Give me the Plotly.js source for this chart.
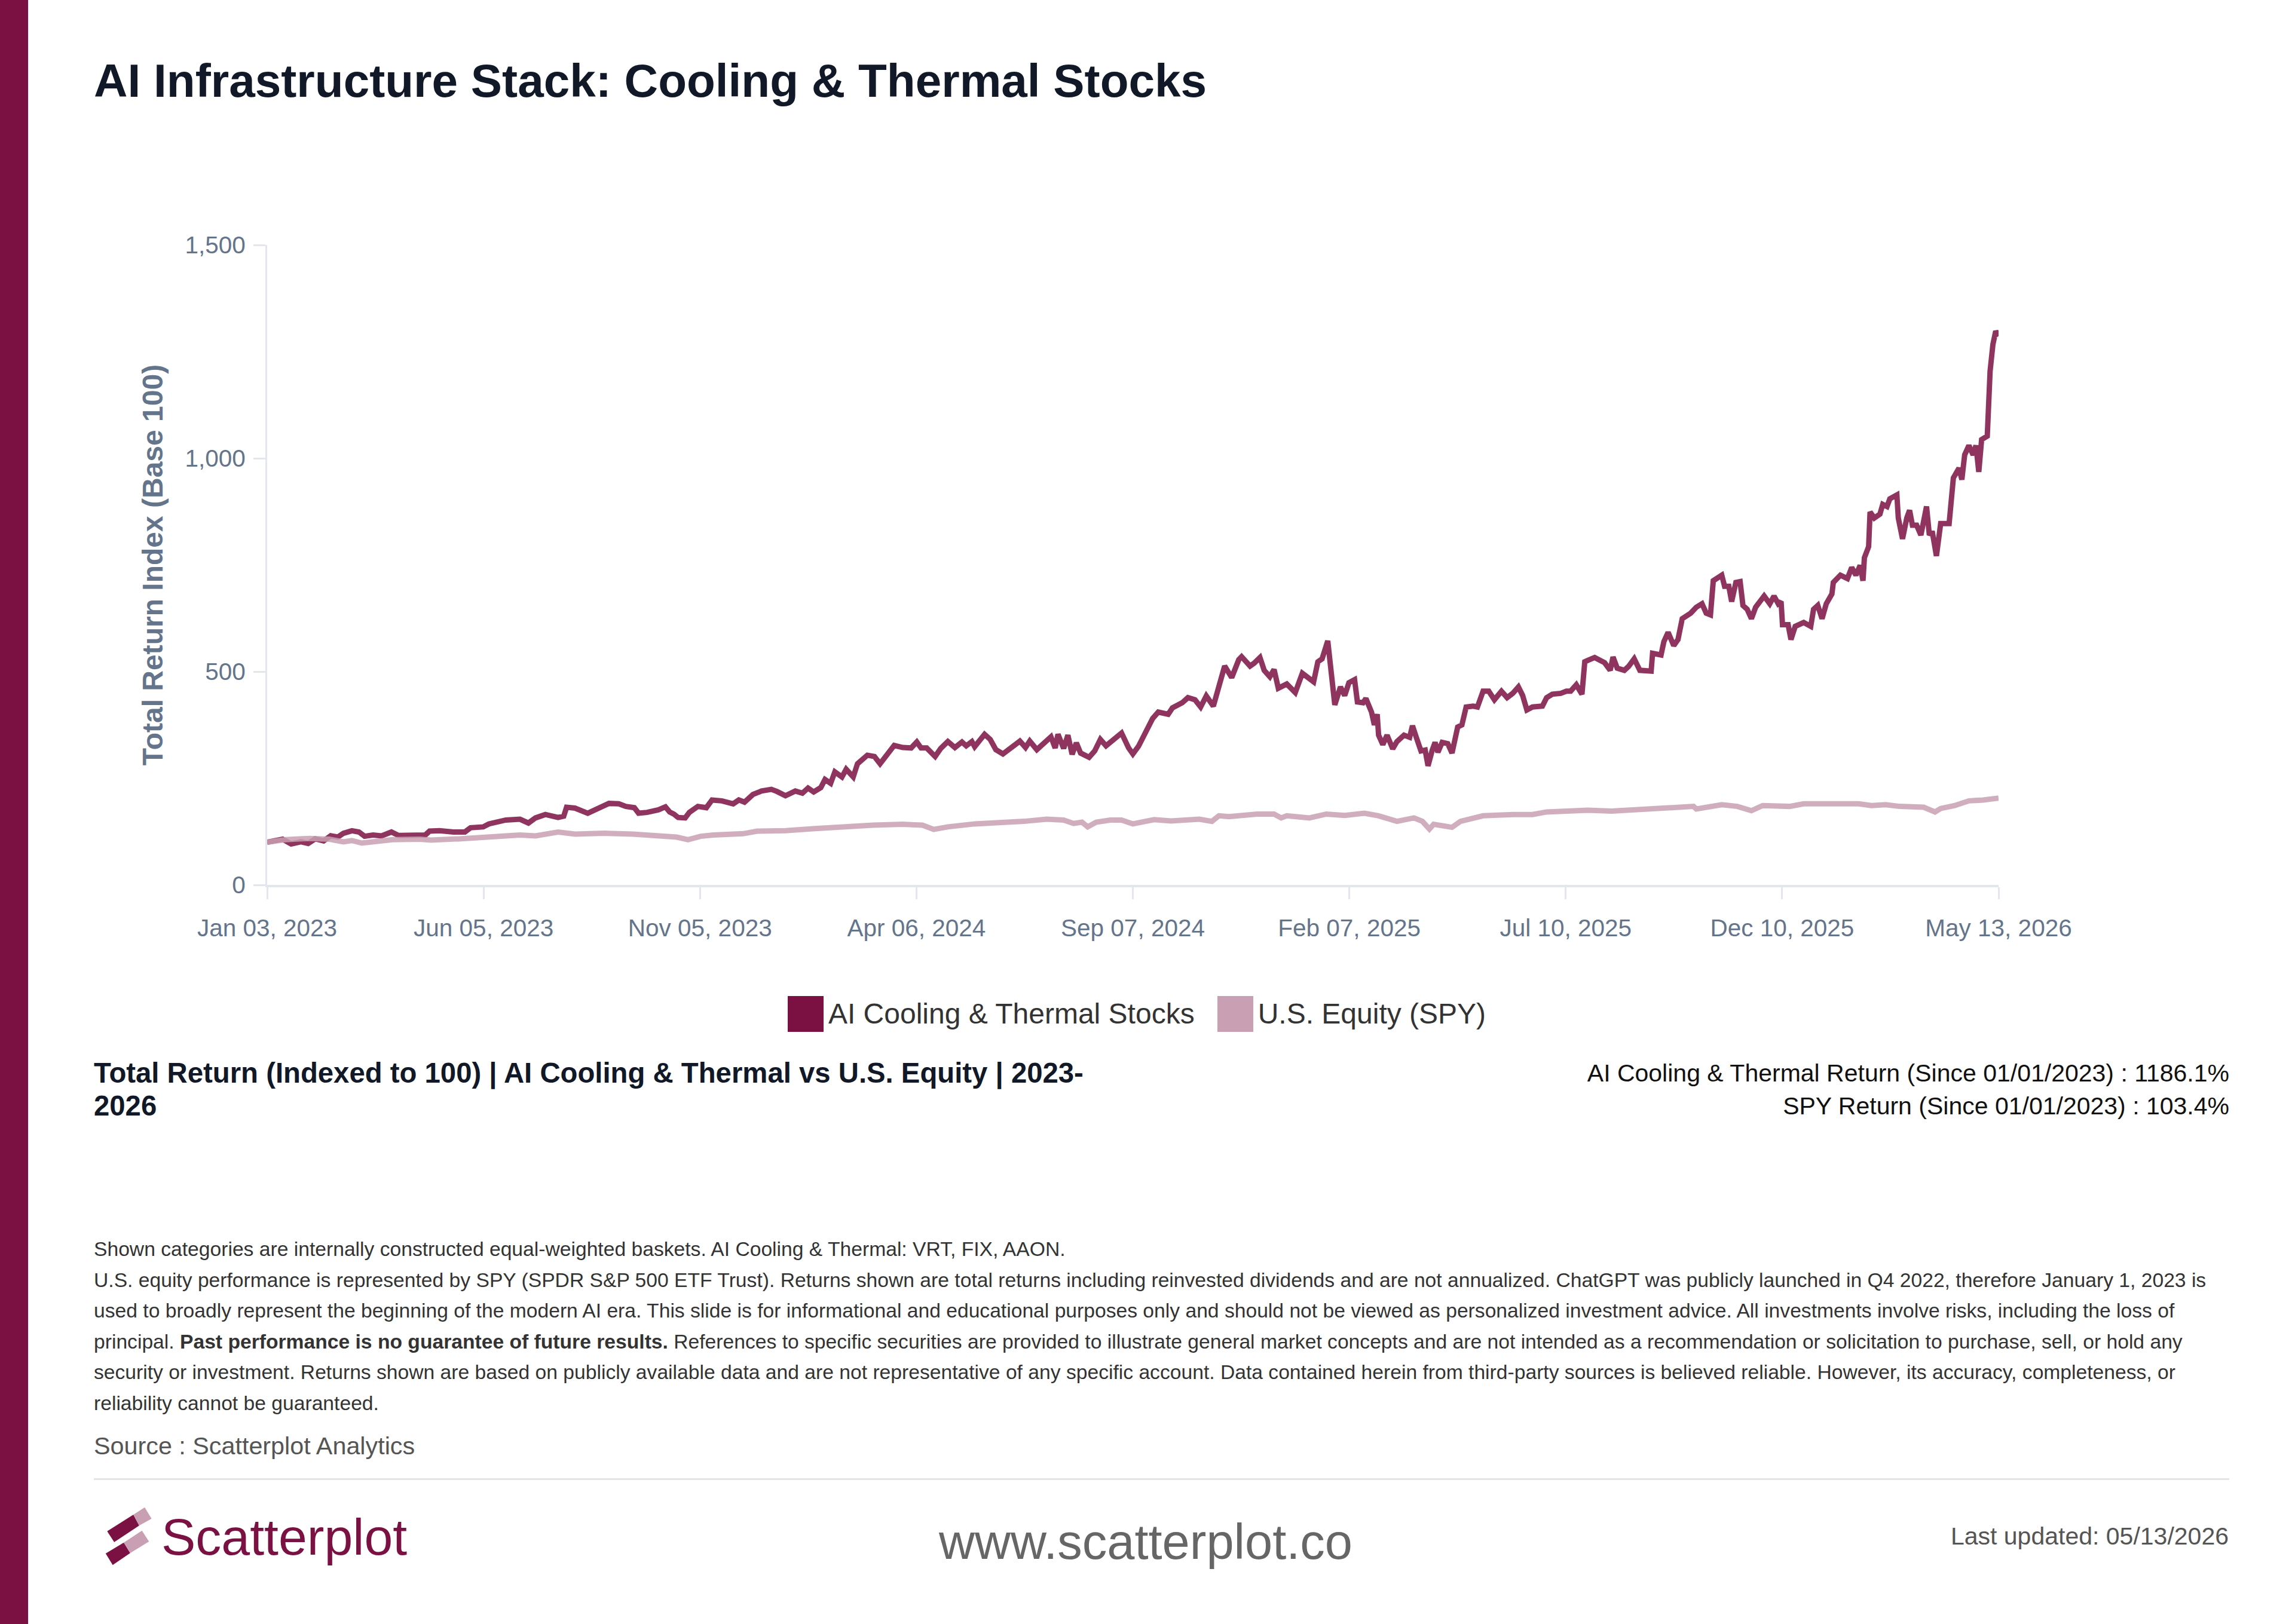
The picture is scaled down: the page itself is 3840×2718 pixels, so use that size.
<!DOCTYPE html>
<html>
<head>
<meta charset="utf-8">
<script src="https://cdn.plot.ly/plotly-3.0.1.min.js"></script>
<style>
  html, body { margin: 0; padding: 0; background: #ffffff; }
  body { width: 3840px; height: 2718px; position: relative; overflow: hidden;
         font-family: "Liberation Sans", Arial, sans-serif; }
  #sidebar { position: absolute; left: 0; top: 0; width: 47px; height: 2718px; background: #7B1042; }
  #chart { position: absolute; left: 0; top: 0; width: 3840px; height: 1640px; }
  #title { position: absolute; left: 157px; top: 96px; font-size: 78.3px; line-height: 78px; font-weight: 700;
           color: #111827; white-space: nowrap; }
  #legend { position: absolute; left: 0; top: 1667px; width: 3804px; height: 60px; display: flex;
            justify-content: center; align-items: center; }
  .lg-item { display: flex; align-items: center; margin: 0 19px; }
  .lg-swatch { width: 60px; height: 60px; margin-right: 8px; }
  .lg-text { font-size: 48px; line-height: 60px; color: #333333; white-space: nowrap; }
  #subtitle { position: absolute; left: 157px; top: 1768px; font-size: 47.3px; line-height: 55px; font-weight: 700;
              color: #111827; white-space: nowrap; }
  #returns { position: absolute; right: 110px; top: 1769px; font-size: 41px; line-height: 55px; color: #111111;
             text-align: right; white-space: nowrap; }
  #notes { position: absolute; left: 157px; top: 2065px; font-size: 33.65px; line-height: 51.5px; color: #333333;
           white-space: nowrap; }
  #source { position: absolute; left: 157px; top: 2396px; font-size: 41.3px; line-height: 48px; color: #555555;
            white-space: nowrap; }
  #rule { position: absolute; left: 157px; top: 2474px; width: 3573px; height: 3px; background: #e5e5e5; }
  #logo { position: absolute; left: 0; top: 0; width: 400px; height: 2718px; pointer-events: none; }
  #brand { position: absolute; left: 270px; top: 2529px; font-size: 86px; line-height: 86px; color: #7B1042;
           white-space: nowrap; }
  #site { position: absolute; left: 0; width: 3834px; top: 2539px; font-size: 83px; line-height: 83px; color: #666666;
          text-align: center; white-space: nowrap; }
  #updated { position: absolute; right: 111px; top: 2551px; font-size: 41px; line-height: 41px; color: #555555;
             white-space: nowrap; }
</style>
</head>
<body>
<div id="sidebar"></div>
<div id="chart"></div>
<div id="title">AI Infrastructure Stack: Cooling &amp; Thermal Stocks</div>
<div id="legend"></div>
<div id="subtitle">Total Return (Indexed to 100) | AI Cooling &amp; Thermal vs U.S. Equity | 2023-<br>2026</div>
<div id="returns"></div>
<div id="notes">Shown categories are internally constructed equal-weighted baskets. AI Cooling &amp; Thermal: VRT, FIX, AAON.<br>U.S. equity performance is represented by SPY (SPDR S&amp;P 500 ETF Trust). Returns shown are total returns including reinvested dividends and are not annualized. ChatGPT was publicly launched in Q4 2022, therefore January 1, 2023 is<br>used to broadly represent the beginning of the modern AI era. This slide is for informational and educational purposes only and should not be viewed as personalized investment advice. All investments involve risks, including the loss of<br>principal. <b>Past performance is no guarantee of future results.</b> References to specific securities are provided to illustrate general market concepts and are not intended as a recommendation or solicitation to purchase, sell, or hold any<br>security or investment. Returns shown are based on publicly available data and are not representative of any specific account. Data contained herein from third-party sources is believed reliable. However, its accuracy, completeness, or<br>reliability cannot be guaranteed.</div>
<div id="source">Source : Scatterplot Analytics</div>
<div id="rule"></div>
<svg id="logo" width="400" height="2718" viewBox="0 0 400 2718">
  <polygon points="179.3,2562.7 223.2,2535 232.9,2553.3 191.1,2581" fill="#7B1042"/>
  <polygon points="223.2,2535 242.1,2522.7 253.6,2541.7 232.9,2553.3" fill="#C9A0B3"/>
  <polygon points="176.8,2600 207.1,2581.7 217.9,2599.3 188.6,2619.3" fill="#7B1042"/>
  <polygon points="207.1,2581.7 237.5,2561.7 249.3,2580 217.9,2599.3" fill="#C9A0B3"/>
</svg>
<div id="brand">Scatterplot</div>
<div id="site">www.scatterplot.co</div>
<div id="updated">Last updated: 05/13/2026</div>

<script>
// ---------------- DATA ----------------
const seriesNames = ['AI Cooling & Thermal Stocks', 'U.S. Equity (SPY)'];
const seriesColors = ['#7B1042', '#C9A0B3'];

const aiDates = [
  '2023-01-03','2023-01-14','2023-01-20','2023-01-27',
  '2023-02-01','2023-02-06','2023-02-12','2023-02-17','2023-02-22','2023-02-26',
  '2023-03-04','2023-03-09','2023-03-13','2023-03-19','2023-03-25',
  '2023-04-01','2023-04-06','2023-04-15','2023-04-25','2023-04-28',
  '2023-05-05','2023-05-15','2023-05-23','2023-05-27',
  '2023-06-05','2023-06-09','2023-06-21',
  '2023-07-01','2023-07-07','2023-07-12','2023-07-19','2023-07-28',
  '2023-08-01','2023-08-03','2023-08-09','2023-08-18','2023-08-26',
  '2023-09-02','2023-09-09','2023-09-14','2023-09-20','2023-09-23','2023-09-29',
  '2023-10-07','2023-10-12','2023-10-15','2023-10-18','2023-10-21','2023-10-26','2023-10-29',
  '2023-11-04','2023-11-10','2023-11-14','2023-11-21','2023-11-29',
  '2023-12-03','2023-12-07','2023-12-13','2023-12-19','2023-12-26','2023-12-30',
  '2024-01-05','2024-01-12','2024-01-17','2024-01-21','2024-01-25','2024-01-30',
  '2024-02-02','2024-02-06','2024-02-09','2024-02-14','2024-02-17','2024-02-22','2024-02-25',
  '2024-03-03','2024-03-08','2024-03-12','2024-03-16','2024-03-20','2024-03-22','2024-03-28',
  '2024-04-03','2024-04-07','2024-04-10','2024-04-14','2024-04-20','2024-04-24','2024-04-29',
  '2024-05-04','2024-05-09','2024-05-12','2024-05-16','2024-05-18','2024-05-25','2024-05-29',
  '2024-06-02','2024-06-07','2024-06-13','2024-06-19','2024-06-23','2024-06-26',
  '2024-07-01','2024-07-07','2024-07-11','2024-07-14','2024-07-16','2024-07-20','2024-07-23','2024-07-26','2024-07-29',
  '2024-08-01','2024-08-07','2024-08-11','2024-08-15','2024-08-19','2024-08-23','2024-08-30',
  '2024-09-04','2024-09-07','2024-09-11','2024-09-16','2024-09-21','2024-09-25',
  '2024-10-02','2024-10-05','2024-10-12','2024-10-16','2024-10-21','2024-10-25','2024-10-29',
  '2024-11-03','2024-11-07','2024-11-11','2024-11-16','2024-11-21','2024-11-23','2024-11-26','2024-11-29',
  '2024-12-02','2024-12-06','2024-12-09','2024-12-13','2024-12-16','2024-12-19','2024-12-25','2024-12-31',
  '2025-01-05','2025-01-09','2025-01-13','2025-01-16','2025-01-19','2025-01-23','2025-01-28',
  '2025-02-01','2025-02-04','2025-02-07','2025-02-11','2025-02-13','2025-02-17','2025-02-19','2025-02-23','2025-02-25','2025-02-27','2025-02-28',
  '2025-03-03','2025-03-06','2025-03-10','2025-03-13','2025-03-18','2025-03-22','2025-03-24','2025-03-27','2025-03-30',
  '2025-04-02','2025-04-04','2025-04-07','2025-04-09','2025-04-11','2025-04-14','2025-04-18','2025-04-21','2025-04-25','2025-04-28',
  '2025-05-01','2025-05-06','2025-05-09','2025-05-13','2025-05-17','2025-05-21','2025-05-26','2025-05-30',
  '2025-06-03','2025-06-07','2025-06-10','2025-06-13','2025-06-17','2025-06-24','2025-06-27',
  '2025-07-01','2025-07-07','2025-07-11','2025-07-14','2025-07-18','2025-07-22','2025-07-24','2025-07-26','2025-07-31',
  '2025-08-07','2025-08-11','2025-08-13','2025-08-16','2025-08-21','2025-08-24','2025-08-28',
  '2025-09-01','2025-09-09','2025-09-10','2025-09-16','2025-09-18','2025-09-21','2025-09-25','2025-09-28',
  '2025-10-01','2025-10-07','2025-10-11','2025-10-15','2025-10-18','2025-10-21','2025-10-23','2025-10-29','2025-10-31',
  '2025-11-03','2025-11-05','2025-11-08','2025-11-11','2025-11-13','2025-11-16','2025-11-19','2025-11-22','2025-11-28',
  '2025-12-02','2025-12-05','2025-12-08','2025-12-10','2025-12-11','2025-12-15','2025-12-17','2025-12-20','2025-12-26','2025-12-31',
  '2026-01-02','2026-01-05','2026-01-08','2026-01-11','2026-01-15','2026-01-16','2026-01-21','2026-01-26','2026-01-29',
  '2026-02-01','2026-02-04','2026-02-06','2026-02-07','2026-02-10','2026-02-11','2026-02-14','2026-02-18','2026-02-20','2026-02-23','2026-02-25',
  '2026-03-02','2026-03-03','2026-03-06','2026-03-09','2026-03-11','2026-03-13','2026-03-16','2026-03-19','2026-03-23','2026-03-25','2026-03-27','2026-03-30',
  '2026-04-02','2026-04-08','2026-04-11','2026-04-15','2026-04-17','2026-04-19','2026-04-22','2026-04-25','2026-04-27','2026-04-29',
  '2026-05-01','2026-05-05','2026-05-07','2026-05-09','2026-05-11','2026-05-13'
];
const aiValues = [
  100,107,96,101,
  97,108,103,115,112,121,
  127,124,114,117,115,
  124,116,116,117,126,
  127,124,124,134,
  136,143,152,
  154,145,157,165,158,
  161,182,180,168,179,
  191,190,184,181,168,170,
  176,183,171,166,158,157,170,
  184,181,199,197,190,
  199,194,212,220,224,219,
  209,220,215,227,218,228,
  247,238,265,253,271,253,284,
  304,301,284,301,316,327,322,
  321,335,321,321,301,320,336,
  322,335,326,336,324,353,341,
  317,307,322,337,322,337,
  317,333,347,321,353,320,351,306,333,
  309,299,314,341,326,338,356,
  321,307,325,360,390,405,
  400,415,427,439,434,417,443,
  419,469,513,486,528,535,523,513,
  520,533,503,488,505,461,471,451,
  496,486,476,523,530,572,422,
  464,444,474,481,429,427,437,405,375,400,351,
  329,351,319,336,351,346,373,343,314,
  316,279,316,334,311,334,331,309,370,375,
  417,419,417,454,454,434,454,439,
  449,464,444,410,417,419,439,
  447,449,454,454,469,447,523,526,533,
  521,503,534,508,503,512,530,
  503,501,543,539,570,592,561,575,
  624,637,651,659,637,633,713,726,700,
  700,664,709,711,655,646,624,651,677,
  659,677,659,664,610,610,575,606,615,606,
  646,655,624,659,682,709,726,718,744,
  726,749,713,767,793,874,860,869,892,887,905,
  914,860,811,860,878,843,843,820,887,820,829,771,
  847,847,954,977,950,1008,1030,1008,1030,968,
  1044,1052,1204,1267,1298,1286.1
];

const spyDates = [
  '2023-01-03','2023-01-16','2023-02-02','2023-02-16','2023-02-26','2023-03-04','2023-03-11','2023-03-23',
  '2023-04-02','2023-04-21','2023-04-29','2023-05-19','2023-06-01','2023-06-17','2023-07-01','2023-07-12',
  '2023-07-28','2023-08-09','2023-08-30','2023-09-19','2023-10-10','2023-10-20','2023-10-28','2023-11-06',
  '2023-11-15','2023-12-06','2023-12-16',
  '2024-01-05','2024-01-26','2024-02-16','2024-03-07','2024-03-28','2024-04-11','2024-04-19','2024-04-29',
  '2024-05-18','2024-06-07','2024-06-22','2024-07-08','2024-07-20','2024-07-27','2024-08-02','2024-08-06',
  '2024-08-12','2024-08-22','2024-08-30','2024-09-07','2024-09-14','2024-09-22','2024-10-04','2024-10-24',
  '2024-11-02','2024-11-07','2024-11-14','2024-12-04','2024-12-16','2024-12-21','2024-12-25',
  '2025-01-10','2025-01-22','2025-02-04','2025-02-18','2025-02-28','2025-03-13','2025-03-25','2025-03-31',
  '2025-04-03','2025-04-05','2025-04-08','2025-04-14','2025-04-21','2025-04-27','2025-05-13','2025-06-03',
  '2025-06-17','2025-06-27','2025-07-14','2025-07-26','2025-08-12','2025-08-31','2025-09-20','2025-10-09',
  '2025-10-11','2025-10-29','2025-11-09','2025-11-19','2025-11-27','2025-12-16','2025-12-26',
  '2026-01-14','2026-01-24','2026-02-03','2026-02-12','2026-02-22','2026-03-04','2026-03-14','2026-03-21',
  '2026-03-29','2026-04-02','2026-04-12','2026-04-22','2026-05-02','2026-05-13'
];
const spyValues = [
  100,106,109,107,101,104,98,101,
  106,107,105,108,111,116,117,115,
  124,119,121,119,116,112,106,114,
  117,120,126,
  127,132,137,140,142,140,130,136,
  143,145,149,154,152,144,147,136,
  147,152,152,143,149,153,150,154,
  149,162,160,166,166,157,162,
  157,166,163,168,162,149,157,149,
  139,131,142,139,135,149,162,165,
  165,171,173,175,173,177,182,184,
  178,188,184,174,186,184,190,
  190,188,190,186,188,184,182,182,
  171,179,186,197,199,203.4
];

const returnLabels = ['AI Cooling & Thermal Return (Since 01/01/2023)', 'SPY Return (Since 01/01/2023)'];
const returnValues = ['1186.1%', '103.4%'];

const xTickVals = ['2023-01-03','2023-06-05 06:00','2023-11-05 12:00','2024-04-06 18:00','2024-09-07',
                   '2025-02-07 06:00','2025-07-10 12:00','2025-12-10 18:00','2026-05-13'];
const xTickText = ['Jan 03, 2023','Jun 05, 2023','Nov 05, 2023','Apr 06, 2024','Sep 07, 2024',
                   'Feb 07, 2025','Jul 10, 2025','Dec 10, 2025','May 13, 2026'];
const yTickVals = [0, 500, 1000, 1500];

// ---------------- CHART ----------------
const FONT = '"Liberation Sans", Arial, sans-serif';
const AXIS = '#e3e6ec';
const TICK = '#64748b';

const traces = [
  { type: 'scatter', mode: 'lines', name: seriesNames[0], x: aiDates, y: aiValues,
    line: { color: seriesColors[0], width: 9 }, opacity: 0.85, hoverinfo: 'skip' },
  { type: 'scatter', mode: 'lines', name: seriesNames[1], x: spyDates, y: spyValues,
    line: { color: seriesColors[1], width: 9 }, opacity: 0.85, hoverinfo: 'skip' }
];

const layout = {
  width: 3840, height: 1640,
  margin: { l: 447, r: 496, t: 410, b: 159, pad: 0 },
  paper_bgcolor: 'rgba(0,0,0,0)', plot_bgcolor: 'rgba(0,0,0,0)',
  showlegend: false,
  font: { family: FONT, color: TICK, size: 40 },
  xaxis: {
    type: 'date', range: ['2023-01-03', '2026-05-13'], automargin: false,
    tickmode: 'array', tickvals: xTickVals, ticktext: xTickText,
    showgrid: false, zeroline: false, showline: true, linecolor: AXIS, linewidth: 4,
    ticks: 'outside', ticklen: 20, tickwidth: 3, tickcolor: AXIS,
    tickfont: { family: FONT, size: 40.5, color: TICK }, ticklabelstandoff: 13
  },
  yaxis: {
    range: [0, 1500], automargin: false,
    tickmode: 'array', tickvals: yTickVals, tickformat: ',',
    showgrid: false, zeroline: false, showline: true, linecolor: AXIS, linewidth: 3,
    ticks: 'outside', ticklen: 20, tickwidth: 3, tickcolor: AXIS,
    tickfont: { family: FONT, size: 40.5, color: TICK }, ticklabelstandoff: 5,
    title: { text: 'Total Return Index (Base 100)', standoff: 22,
             font: { family: FONT, size: 48, color: TICK, weight: 700 } }
  }
};

Plotly.newPlot('chart', traces, layout, { staticPlot: true, displayModeBar: false });

// ---------------- HTML legend & returns ----------------
const legend = document.getElementById('legend');
seriesNames.forEach((name, i) => {
  const item = document.createElement('div');
  item.className = 'lg-item';
  const sw = document.createElement('div');
  sw.className = 'lg-swatch';
  sw.style.background = seriesColors[i];
  const tx = document.createElement('div');
  tx.className = 'lg-text';
  tx.textContent = name;
  item.appendChild(sw); item.appendChild(tx);
  legend.appendChild(item);
});
document.getElementById('returns').innerHTML =
  returnLabels.map((l, i) => l + ' : ' + returnValues[i]).join('<br>');
</script>
</body>
</html>
